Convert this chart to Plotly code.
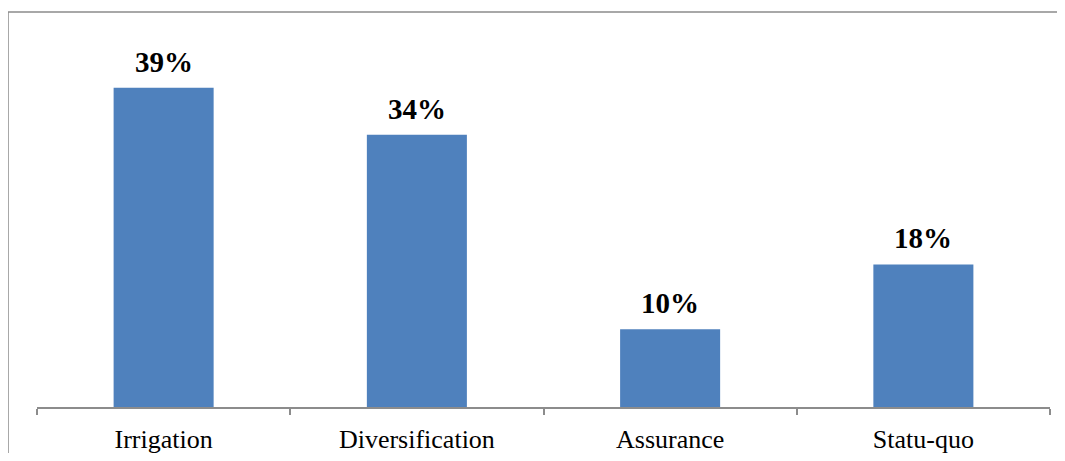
import plotly.graph_objects as go

# -------------------------------------------------
# Data
# -------------------------------------------------
categories = ["Irrigation", "Diversification", "Assurance", "Statu-quo"]
shares = [39.4, 33.6, 9.6, 17.6]
share_labels = ["39%", "34%", "10%", "18%"]

BAR_COLOR = "#4F81BD"
LINE_COLOR = "#8C8C8C"
SERIF = "Liberation Serif, Times New Roman, serif"

fig = go.Figure()

fig.add_trace(
    go.Bar(
        x=categories,
        y=shares,
        marker=dict(color=BAR_COLOR, line=dict(width=0)),
        width=0.395,
        showlegend=False,
        hoverinfo="skip",
    )
)

# value labels above bars
for cat, val, lab in zip(categories, shares, share_labels):
    fig.add_annotation(
        x=cat,
        y=val,
        text=f"<b>{lab}</b>",
        showarrow=False,
        yanchor="bottom",
        yshift=8,
        font=dict(family=SERIF, size=29, color="black"),
    )

# outer frame (chart border, partly cut off at right/bottom)
fig.add_shape(
    type="rect",
    xref="paper",
    yref="paper",
    x0=-29 / 1013,
    x1=1.1,
    y0=-0.5,
    y1=1 + 8 / 387,
    line=dict(color=LINE_COLOR, width=1.5),
    fillcolor="rgba(0,0,0,0)",
    layer="above",
)

# page body has an 8px default margin, so the figure is sized to fit inside
fig.update_layout(
    width=1049,
    height=445,
    margin=dict(l=29, r=7, t=12, b=46),
    paper_bgcolor="white",
    plot_bgcolor="white",
    bargap=0.6,
    xaxis=dict(
        showline=True,
        linecolor=LINE_COLOR,
        linewidth=1.5,
        ticks="outside",
        tickson="boundaries",
        ticklen=6,
        tickwidth=1.5,
        tickcolor=LINE_COLOR,
        ticklabelstandoff=8,
        showgrid=False,
        automargin=False,
        tickfont=dict(family=SERIF, size=26, color="black"),
        fixedrange=True,
    ),
    yaxis=dict(
        visible=False,
        range=[0, 47.78],
        fixedrange=True,
    ),
)

fig.write_html("out.html")
